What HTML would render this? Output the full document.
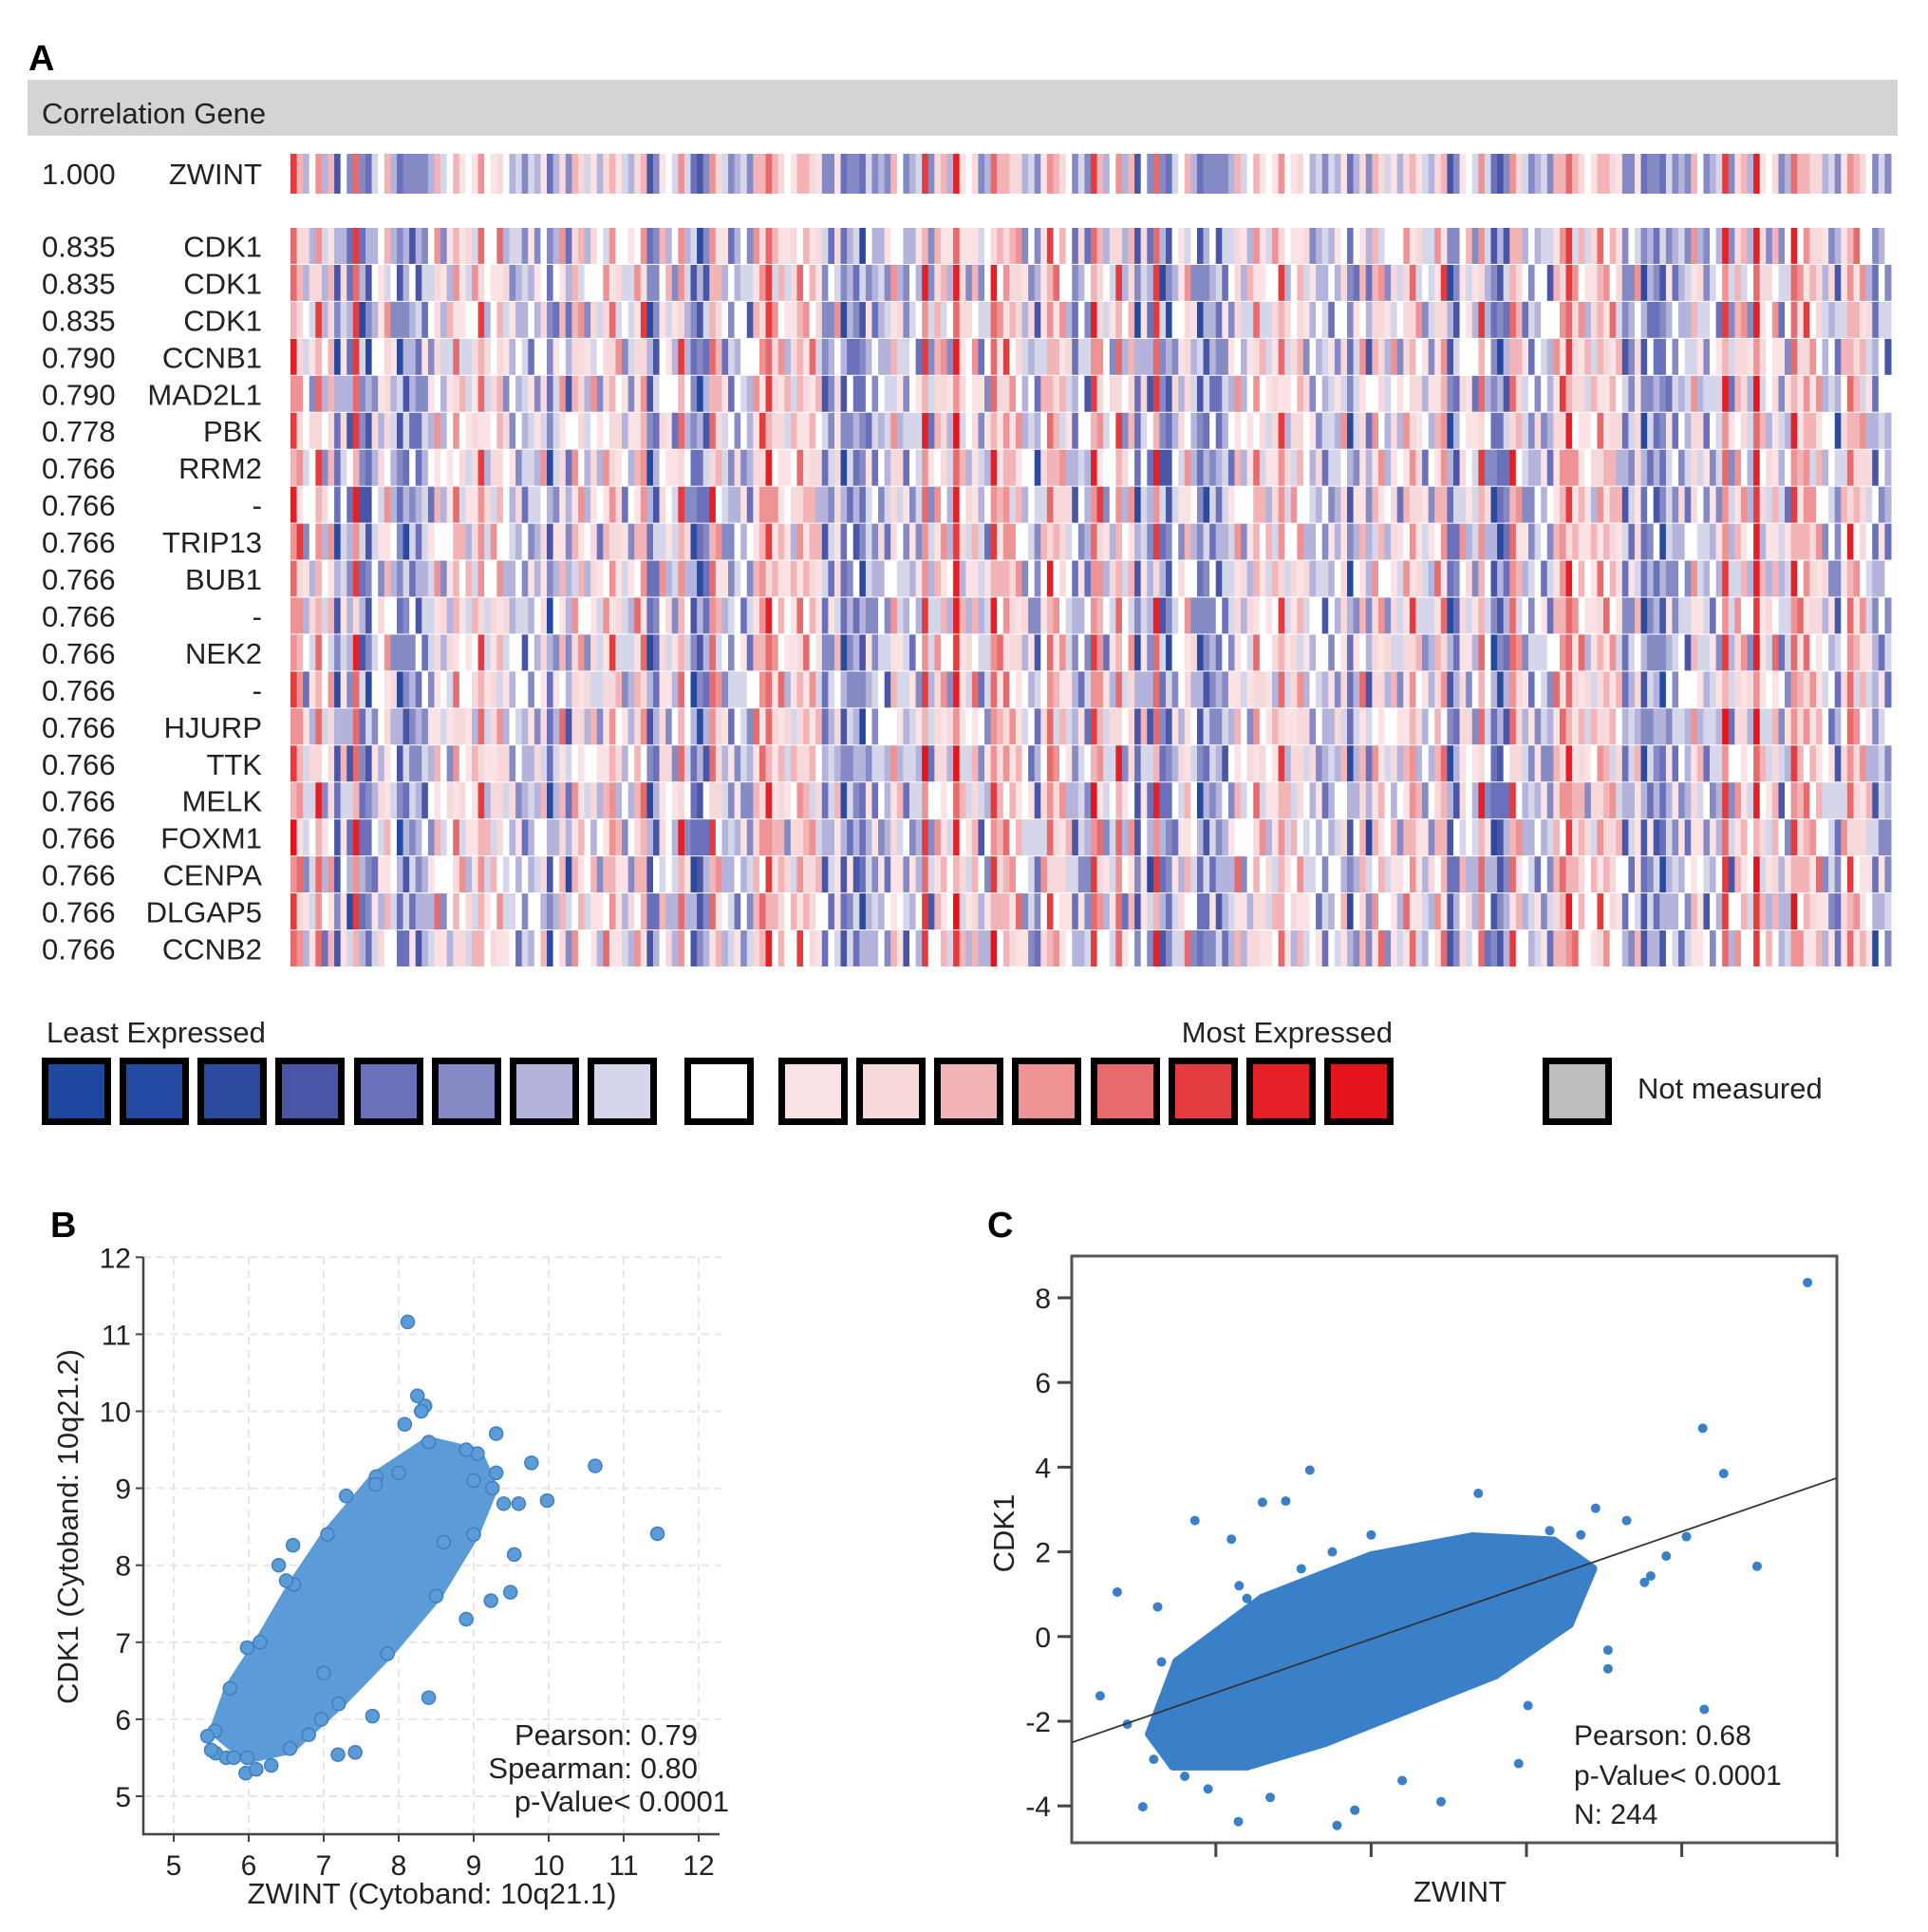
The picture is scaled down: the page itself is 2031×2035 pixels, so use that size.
<!DOCTYPE html>
<html><head><meta charset="utf-8">
<style>
html,body{margin:0;padding:0;background:#fff;}
svg{display:block;font-family:"Liberation Sans",Arial,sans-serif;}
</style></head>
<body>
<svg id="fig" width="2031" height="2035" viewBox="0 0 2031 2035" xmlns="http://www.w3.org/2000/svg">
<text x="30" y="74" font-size="38" font-weight="bold">A</text>
<rect x="29" y="84" width="1970" height="59" fill="#d4d4d4"/>
<text x="44" y="130" font-size="31" fill="#222">Correlation Gene</text>
<g id="heat"></g>
<g id="rowlabels"></g>
<g id="legend"></g>
<text x="53" y="1303" font-size="38" font-weight="bold">B</text>
<g id="plotB"></g>
<text x="1040" y="1303" font-size="38" font-weight="bold">C</text>
<g id="plotC"></g>
</svg>
<script>
// ---------- heatmap data ----------
const corrValues = ["0.835","0.835","0.835","0.790","0.790","0.778","0.766","0.766","0.766","0.766","0.766","0.766","0.766","0.766","0.766","0.766","0.766","0.766","0.766","0.766"];
const geneNames = ["CDK1","CDK1","CDK1","CCNB1","MAD2L1","PBK","RRM2","-","TRIP13","BUB1","-","NEK2","-","HJURP","TTK","MELK","FOXM1","CENPA","DLGAP5","CCNB2"];
const colBase = [7,2,-3,4,-4,1,-2,3,-5,0,2,-3,5,-1,-4,-2,1,-5,3,-2,-1,-6,2,-3,0,4,-2,-4,1,-3,
 6,-1,3,-4,-2,0,-5,2,-3,-1,4,-2,0,-6,-1,3,-4,7,-2,1,-3,-5,0,2,-4,-1,3,-3,5,-2,
 -4,-1,8,-3,-5,1,-2,-6,0,3,-4,2,-1,5,-3,0,2,-2,4,-1,6,1,-3,3,0,-2,4,1,-1,2,
 5,-3,2,0,3,-2,1,4,-1,2,6,-4,0,3,1,-2,2,5,-1,0,3,-3,1,2,-1,4,0,-2,3,-4,1,2,-1,-5,1,-3,-2,-4];
const rowDelta = [0,1,-2,1,-1,2,-1,0,2,-2,1,-1,1,0,-1,2,-2,1,0,-1,1,-1,3,-3,0,1,-2,1,-1,2,0];
const palette = ["#1e48a0","#2449a2","#2b4a9e","#4955a6","#6b70ba","#8589c4","#b3b3dc","#d6d6ea","#ffffff",
 "#fbe3e5","#f8d9db","#f2b4b6","#ee9294","#e76a6c","#e43c3e","#e41f25","#e3141a"];
// ---------- scatter B data ----------
const bCoreX = [5.55,5.98,6.55,7.2,7.85,8.5,9.0,9.25,9.05,8.4,7.7,7.05,6.6,6.15,5.75];
const bCoreY = [5.85,5.5,5.62,6.2,6.85,7.6,8.4,9.0,9.45,9.6,9.15,8.4,7.75,7.0,6.4];
const bPtX = [8.12,11.45,10.62,9.98,9.77,9.30,8.35,8.08,9.49,9.23,8.40,7.65,7.42,7.19,6.97,5.98,5.45,5.56,5.96,6.59,7.69,9.54,8.25,7.3,6.3,8.9,9.6,5.7,6.1,8.0,8.3,6.8,7.0,8.6,9.0,9.3,6.5,6.4,9.4,8.9,5.5,5.8];
const bPtY = [11.16,8.41,9.29,8.84,9.33,9.71,10.07,9.83,7.65,7.54,6.28,6.04,5.57,5.54,6.00,6.93,5.78,5.56,5.30,8.26,9.05,8.14,10.2,8.9,5.4,7.3,8.8,5.5,5.35,9.2,10.0,5.8,6.6,8.3,9.1,9.2,7.8,8.0,8.8,9.5,5.6,5.5];
const bXTicks = [5,6,7,8,9,10,11,12];
const bYTicks = [5,6,7,8,9,10,11,12];
// ---------- scatter C data ----------
const cCoreX = [-4.85,-4.5,-3.4,-2.0,-0.7,0.35,0.85,0.55,-0.4,-1.5,-2.6,-3.6,-4.55];
const cCoreY = [-2.3,-0.6,0.9,1.9,2.35,2.25,1.6,0.3,-0.9,-1.7,-2.5,-3.05,-3.05];
const cPtX = [3.62,2.27,2.54,2.97,2.06,2.29,-2.79,-0.62,-5.49,-5.27,-4.94,-3.71,-2.44,-2.21,-1.10,-4.27,-3.40,1.05,1.05,1.52,1.60,1.29,0.89,-4.75,-4.70,-5.14,0.02,-3.8,-3.1,-2.0,-4.4,-0.1,1.8,-4.1,-3.3,-1.6,-2.9,-3.6,-4.8,-3.7,-2.5,0.3,0.7];
const cPtY = [8.36,4.92,3.85,1.66,2.36,-1.72,3.93,3.38,-1.40,1.05,-4.02,-4.37,-4.46,-4.10,-3.90,2.74,3.17,-0.32,-0.76,1.28,1.43,2.74,3.03,0.70,-0.60,-2.07,-1.63,2.3,3.2,2.4,-3.3,-3.0,1.9,-3.6,-3.8,-3.4,1.6,0.9,-2.9,1.2,2.0,2.5,2.4];
const cSlope = 0.634, cIntercept = 1.21;
const cXTicks = [-4,-2,0,2,4];
const cYTicks = [-4,-2,0,2,4,6,8];

const NS = "http://www.w3.org/2000/svg";
function mk(tag, attrs, parent){const e=document.createElementNS(NS,tag);for(const k in attrs)e.setAttribute(k,attrs[k]);parent.appendChild(e);return e;}

// ---------- heatmap ----------
const heat = document.getElementById('heat');
const hx0=306, hx1=1992, nC=colBase.length*2, cw=(hx1-hx0)/nC;
const hy0=240, rowH=(1019-240)/20;
function colorOf(v){v=Math.max(-8,Math.min(8,Math.round(v)));return palette[v+8];}
function cellX(c){return hx0+c*cw;}
function colVal(c){return colBase[(c*3)%colBase.length];}
for(let c=0;c<nC;c++){
  const r0=mk('rect',{x:cellX(c),y:162,width:cw+0.5,height:42,fill:colorOf(colVal(c)*0.85)},heat);
  
  
}
for(let r=0;r<20;r++){
  for(let c=0;c<nC;c++){
    const v=colVal(c)*0.75+rowDelta[(c*11+r*13)%rowDelta.length];
    const e=mk('rect',{x:cellX(c),y:hy0+r*rowH,width:cw+0.5,height:rowH-1,fill:colorOf(v)},heat);
    
    
  }
}
const rl=document.getElementById('rowlabels');
function lab(x,y,t,anchor,name){const e=mk('text',{x:x,y:y,'font-size':31,fill:'#222','text-anchor':anchor},rl);e.textContent=t;
  
  }
lab(44,194,"1.000","start","corr-value");
lab(276,194,"ZWINT","end","gene-name");
for(let r=0;r<20;r++){const y=hy0+r*rowH+rowH/2+11;lab(44,y,corrValues[r],"start","corr-value");lab(276,y,geneNames[r],"end","gene-name");}

// ---------- legend ----------
const lg=document.getElementById('legend');
const boxX=[44,126,208,290,373,455,537,619,721,820,902,984,1066,1149,1231,1313,1395];
palette.forEach((p,i)=>{const e=mk('rect',{x:boxX[i]+3.5,y:1117.5,width:66,height:64,fill:p,stroke:'#000','stroke-width':7},lg);
  
  });
const g=mk('rect',{x:1628.5,y:1117.5,width:66,height:64,fill:'#bdbdbd',stroke:'#000','stroke-width':7},lg);


[[49,1098,"Least Expressed","start"],[1467,1098,"Most Expressed","end"],[1725,1157,"Not measured","start"]].forEach(t=>{
  const e=mk('text',{x:t[0],y:t[1],'font-size':31,fill:'#222','text-anchor':t[3]},lg);e.textContent=t[2];
  
  });

// ---------- scatter B ----------
const B=document.getElementById('plotB');
const xB=v=>183+79*(v-5), yB=v=>1892-81.1*(v-5);
bXTicks.forEach(t=>{mk('line',{x1:xB(t),y1:1324,x2:xB(t),y2:1932,stroke:'#e6e6e6','stroke-width':2,'stroke-dasharray':'8 6'},B);
  mk('line',{x1:xB(t),y1:1932,x2:xB(t),y2:1940,stroke:'#444','stroke-width':2},B);
  const e=mk('text',{x:xB(t),y:1975,'font-size':30,'text-anchor':'middle',fill:'#222'},B);e.textContent=t;
  
  });
bYTicks.forEach(t=>{mk('line',{x1:151,y1:yB(t),x2:760,y2:yB(t),stroke:'#e6e6e6','stroke-width':2,'stroke-dasharray':'8 6'},B);
  mk('line',{x1:143,y1:yB(t),x2:151,y2:yB(t),stroke:'#444','stroke-width':2},B);
  const e=mk('text',{x:138,y:yB(t)+11,'font-size':30,'text-anchor':'end',fill:'#222'},B);e.textContent=t;
  
  });
mk('polyline',{points:`151,1324 151,1932 758,1932`,fill:'none',stroke:'#444','stroke-width':2.5},B);
const coreB=mk('polygon',{points:bCoreX.map((x,i)=>xB(x)+','+yB(bCoreY[i])).join(' '),fill:'#5b9bd8',stroke:'#5b9bd8','stroke-width':12,'stroke-linejoin':'round'},B);


bCoreX.concat(bPtX).forEach((x,i)=>{const y=i<bCoreX.length?bCoreY[i]:bPtY[i-bCoreX.length];
  const e=mk('circle',{cx:xB(x),cy:yB(y),r:7,fill:'#5b9bd8',stroke:'#3f7fbf','stroke-width':1.5},B);
  
  });
[[735,1838,"Pearson: 0.79"],[735,1873,"Spearman: 0.80"],[768,1908,"p-Value< 0.0001"]].forEach(t=>{
  const e=mk('text',{x:t[0],y:t[1],'font-size':31,'text-anchor':'end',fill:'#222'},B);e.textContent=t[2];
  
  });
let e1=mk('text',{x:455,y:2005,'font-size':31,'text-anchor':'middle',fill:'#222'},B);e1.textContent="ZWINT (Cytoband: 10q21.1)";


e1=mk('text',{x:0,y:0,'font-size':31,'text-anchor':'middle',fill:'#222',transform:'translate(82,1608) rotate(-90)'},B);e1.textContent="CDK1 (Cytoband: 10q21.2)";



// ---------- scatter C ----------
const C=document.getElementById('plotC');
const xC=v=>1608+81.8*v, yC=v=>1367+44.6*(8-v);
const cx0=1129,cx1=1935,cy0=1323,cy1=1941;
mk('rect',{x:cx0,y:cy0,width:cx1-cx0,height:cy1-cy0,fill:'none',stroke:'#555','stroke-width':3},C);
cXTicks.forEach(t=>{mk('line',{x1:xC(t),y1:cy1,x2:xC(t),y2:cy1+15,stroke:'#444','stroke-width':3},C);});
cYTicks.forEach(t=>{mk('line',{x1:cx0-15,y1:yC(t),x2:cx0,y2:yC(t),stroke:'#444','stroke-width':3},C);
  const e=mk('text',{x:cx0-22,y:yC(t)+11,'font-size':30,'text-anchor':'end',fill:'#222'},C);e.textContent=t;
  
  });
const coreC=mk('polygon',{points:cCoreX.map((x,i)=>xC(x)+','+yC(cCoreY[i])).join(' '),fill:'#3a80c8',stroke:'#3a80c8','stroke-width':10,'stroke-linejoin':'round'},C);


cCoreX.concat(cPtX).forEach((x,i)=>{const y=i<cCoreX.length?cCoreY[i]:cPtY[i-cCoreX.length];
  const e=mk('circle',{cx:xC(x),cy:yC(y),r:5,fill:'#3a80c8'},C);
  
  });
const lx0=(cx0-1608)/81.8, lx1=(cx1-1608)/81.8;
const rl2=mk('line',{x1:xC(lx0),y1:yC(cSlope*lx0+cIntercept),x2:xC(lx1),y2:yC(cSlope*lx1+cIntercept),stroke:'#333','stroke-width':1.8},C);


[[1658,1838,"Pearson: 0.68"],[1658,1880,"p-Value< 0.0001"],[1658,1921,"N: 244"]].forEach(t=>{
  const e=mk('text',{x:t[0],y:t[1],'font-size':30,fill:'#222'},C);e.textContent=t[2];
  
  });
e1=mk('text',{x:1538,y:2003,'font-size':31,'text-anchor':'middle',fill:'#222'},C);e1.textContent="ZWINT";


e1=mk('text',{x:0,y:0,'font-size':31,'text-anchor':'middle',fill:'#222',transform:'translate(1068,1615) rotate(-90)'},C);e1.textContent="CDK1";


</script>
</body></html>
